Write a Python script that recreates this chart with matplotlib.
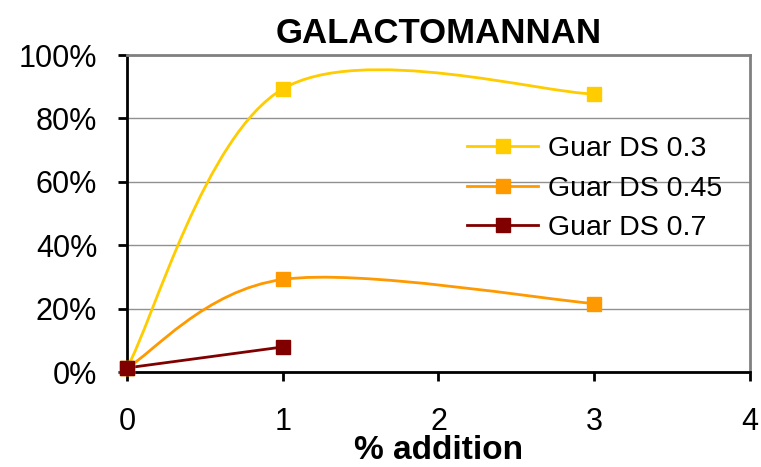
import matplotlib
matplotlib.use("Agg")
import matplotlib.pyplot as plt
from matplotlib.path import Path
from matplotlib.patches import PathPatch
from matplotlib.ticker import PercentFormatter

plt.rcParams["font.family"] = ["Liberation Sans", "DejaVu Sans"]

# data
x_03 = [0, 1, 3]
y_03 = [1.3, 89.3, 87.7]
x_045 = [0, 1, 3]
y_045 = [1.3, 29.2, 21.6]
x_07 = [0, 1]
y_07 = [1.3, 7.9]

series = [
    ("Guar DS 0.3", x_03, y_03, "#FFCC00"),
    ("Guar DS 0.45", x_045, y_045, "#FF9900"),
    ("Guar DS 0.7", x_07, y_07, "#800000"),
]


def smooth_path(xs, ys):
    # Excel-like smoothed line: cubic Bezier segments through the points
    pts = list(zip(xs, ys))
    n = len(pts)
    verts = [pts[0]]
    codes = [Path.MOVETO]
    for i in range(n - 1):
        p0 = pts[i - 1] if i > 0 else pts[i]
        p1 = pts[i]
        p2 = pts[i + 1]
        p3 = pts[i + 2] if i + 2 < n else pts[i + 1]
        c1 = (p1[0] + (p2[0] - p0[0]) / 6, p1[1] + (p2[1] - p0[1]) / 6)
        c2 = (p2[0] - (p3[0] - p1[0]) / 6, p2[1] - (p3[1] - p1[1]) / 6)
        verts += [c1, c2, p2]
        codes += [Path.CURVE4] * 3
    return Path(verts, codes)


fig = plt.figure(figsize=(7.61, 4.67), dpi=100)
ax = fig.add_axes([0.1669, 0.2034, 0.8186, 0.6788])

for label, xs, ys, color in series:
    ax.add_patch(PathPatch(smooth_path(xs, ys), facecolor="none",
                           edgecolor=color, lw=2, zorder=3))
    ax.plot(xs, ys, linestyle="none", marker="s", markersize=10.5,
            color=color, zorder=4, clip_on=False)
    ax.plot([], [], color=color, lw=2, marker="s", markersize=10.5, label=label)

ax.set_xlim(0, 4)
ax.set_ylim(0, 100)
ax.set_xticks([0, 1, 2, 3, 4])
ax.set_yticks([0, 20, 40, 60, 80, 100])
ax.yaxis.set_major_formatter(PercentFormatter(decimals=0))
ax.grid(axis="y", color="#909090", lw=1)
ax.set_axisbelow(True)

for side in ("left", "bottom"):
    ax.spines[side].set_color("black")
    ax.spines[side].set_linewidth(2)
for side in ("top", "right"):
    ax.spines[side].set_color("#808080")
    ax.spines[side].set_linewidth(2)

ax.tick_params(axis="both", direction="out", length=6.5, width=2,
               labelsize=22, color="black")
ax.tick_params(axis="x", pad=19)
ax.tick_params(axis="y", pad=15)

ax.set_title("GALACTOMANNAN", fontsize=25, fontweight="bold", pad=9)
ax.set_xlabel("% addition", fontsize=24, fontweight="bold", labelpad=-2)

ax.legend(loc="upper left", bbox_to_anchor=(0.5457, 0.745), frameon=False,
          fontsize=20.5, handlelength=2.5, handletextpad=0.35,
          labelspacing=0.48, borderpad=0, borderaxespad=0)

fig.savefig("out.png", dpi=100)
